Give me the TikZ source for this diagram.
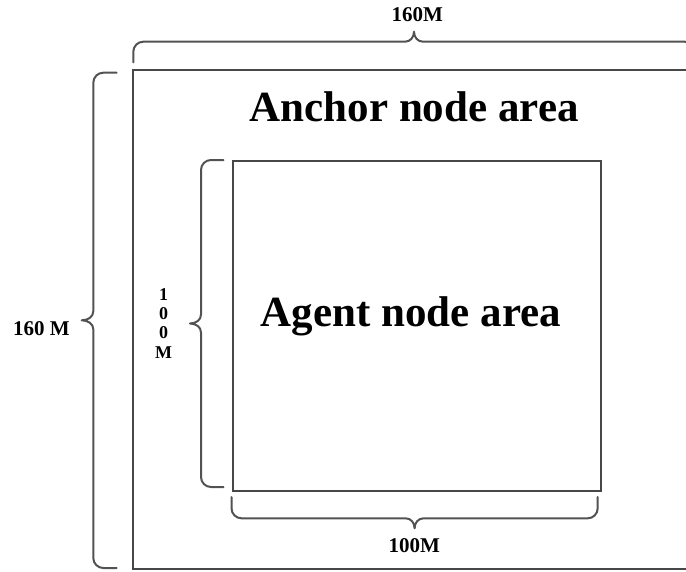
\documentclass[tikz,border=0pt]{standalone}
\usepackage{fontspec}
\setmainfont{Liberation Serif}
\begin{document}
\begin{tikzpicture}[x=1pt,y=-1pt,
  frame/.style={draw=black!72,line width=2pt},
  bracket/.style={draw=black!68,line width=2pt,line cap=round,line join=round},
  biglabel/.style={font=\fontsize{43}{50}\selectfont\bfseries,inner sep=0pt,anchor=base},
  dimlabel/.style={font=\fontsize{21}{24}\selectfont\bfseries,inner sep=0pt,anchor=base}]
\useasboundingbox (0,0) rectangle (686,571);
\clip (0,0) rectangle (686,571);

% areas
\coordinate (outerNW) at (133,70);
\coordinate (outerSE) at (700,569.3);
\coordinate (innerNW) at (233.3,160.7);
\coordinate (innerSE) at (601,491);
\draw[frame] (outerNW) rectangle (outerSE);
\draw[frame] (innerNW) rectangle (innerSE);

% top dimension bracket (160M)
\draw[bracket] (133.3,62.3) -- (133.3,51.7) arc[start angle=180,end angle=270,radius=10]
  -- (405,41.7) .. controls (410.5,41.7) and (414,37) .. (414,31.7)
  .. controls (414,37) and (417.5,41.7) .. (423,41.7)
  -- (684.7,41.7) arc[start angle=270,end angle=360,radius=10] -- (694.7,62.3);

% left dimension bracket (160 M)
\draw[bracket] (116.7,72.7) -- (103.3,72.7) arc[start angle=270,end angle=180,radius=10]
  -- (93.3,311.3) .. controls (93.3,316.8) and (88,320.3) .. (81.7,320.3)
  .. controls (88,320.3) and (93.3,323.8) .. (93.3,329.3)
  -- (93.3,558) arc[start angle=180,end angle=90,radius=10] -- (116.7,568);

% inner left bracket (100 M)
\draw[bracket] (223.5,160) -- (211,160) arc[start angle=270,end angle=180,radius=10]
  -- (201,314.5) .. controls (201,320) and (196,323.5) .. (190,323.5)
  .. controls (196,323.5) and (201,327) .. (201,332.5)
  -- (201,477) arc[start angle=180,end angle=90,radius=10] -- (223.5,487);

% bottom bracket (100M)
\draw[bracket] (231.5,497) -- (231.5,508.3) arc[start angle=180,end angle=90,radius=10]
  -- (405.6,518.3) .. controls (411.1,518.3) and (414.6,523) .. (414.6,528.3)
  .. controls (414.6,523) and (418.1,518.3) .. (423.6,518.3)
  -- (587.7,518.3) arc[start angle=90,end angle=0,radius=10] -- (597.7,497);

% labels
\node[biglabel] (anchorlbl) at (414.2,121.7) {Anchor node area};
\node[biglabel] (agentlbl) at (410.9,326.7) {Agent node area};
\node[dimlabel] (toplbl) at (417.2,21.7) {160M};
\node[dimlabel] (botlbl) at (414.2,552.2) {100M};
\node[dimlabel] (leftlbl) at (41.3,335) {160 M};
\node[font=\fontsize{18}{19.4}\selectfont\bfseries,inner sep=0pt,align=center]
  (innerlbl) at (163.5,323.3) {1\\0\\0\\M};
\end{tikzpicture}
\end{document}
